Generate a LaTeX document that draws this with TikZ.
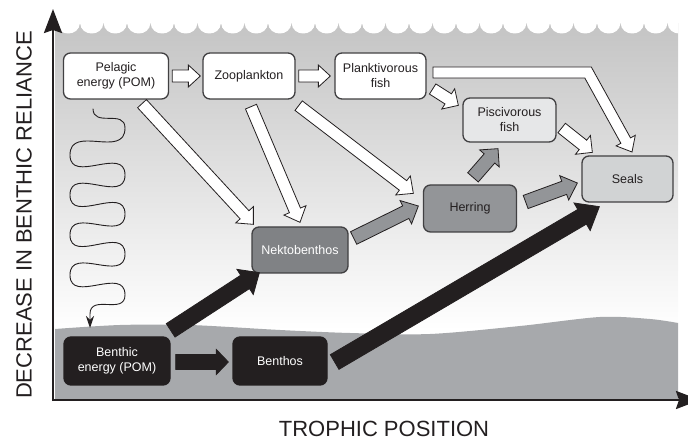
\documentclass[tikz,border=0pt]{standalone}
\usepackage{fontspec}
\setmainfont{Liberation Sans}
\usetikzlibrary{arrows.meta, calc, positioning}

\definecolor{sediment}{HTML}{A7A9AC}
\definecolor{boxline}{HTML}{414042}
\definecolor{ink}{HTML}{231F20}
\definecolor{piscfill}{HTML}{E6E7E8}
\definecolor{sealfill}{HTML}{D1D3D4}
\definecolor{herrfill}{HTML}{939598}
\definecolor{nektfill}{HTML}{808285}

\tikzset{
  foodbox/.style={draw=boxline, line width=1.3pt, rounded corners=7pt, align=center,
    inner sep=0pt, minimum height=46pt, text=ink, font=\fontsize{12.5}{15}\selectfont},
  darkbox/.style={foodbox, draw=ink, fill=ink, text=white, minimum height=48pt},
  meander/.style={out=-90, in=90, looseness=1.3},
  axisline/.style={ink, line width=2.5pt, -{Stealth[length=24pt, width=18pt, inset=3pt]}}
}

% block arrow: [fill] {from}{to}{half shaft}{half head}{head length}
\newcommand{\flowarrow}[6][white]{%
  \coordinate (hb) at ($(#3)!#6!(#2)$);
  \draw[ink, line width=0.8pt, fill=#1]
    ($(#2)!#4!90:(#3)$) -- ($(hb)!#4!-90:(#2)$) -- ($(hb)!#5!-90:(#2)$) -- (#3)
    -- ($(hb)!#5!90:(#2)$) -- ($(hb)!#4!90:(#2)$) -- ($(#2)!#4!-90:(#3)$) -- cycle;}

\begin{document}
\begin{tikzpicture}[x=1pt, y=-1pt]
  \useasboundingbox (0,0) rectangle (688,443);

  % water column and sea floor
  \shade[top color=black!23, bottom color=white] (55,24) rectangle (678,330);
  \begin{scope}
    \clip (55,0) rectangle (678,60);
    \foreach \i in {0,...,27}
      \fill[white] ({33+23.5*\i},23) .. controls ({34+23.5*\i},37) and ({55.5+23.5*\i},37) .. ({56.5+23.5*\i},23) -- cycle;
  \end{scope}
  \fill[sediment] (55,400) -- plot[smooth] coordinates {(55,329) (120,325) (190,325) (280,330) (350,333)
    (430,334) (520,326) (600,317) (650,319) (678,323)} -- (678,400) -- cycle;

  % boxes
  \node[foodbox, fill=white, minimum width=105pt] (pel) at (116,76) {Pelagic\\energy (POM)};
  \node[foodbox, fill=white, minimum width=92pt] (zoo) at (249,76) {Zooplankton};
  \node[foodbox, fill=white, minimum width=91pt] (plank) at (380.5,76) {Planktivorous\\fish};
  \node[foodbox, fill=piscfill, minimum width=93pt, minimum height=44pt] (pisc) at (509.5,120) {Piscivorous\\fish};
  \node[foodbox, fill=sealfill, minimum width=91pt] (seals) at (627.5,179) {Seals};
  \node[foodbox, fill=herrfill, minimum width=93pt, minimum height=47pt] (herring) at (470,208.5) {Herring};
  \node[foodbox, fill=nektfill, text=white, minimum width=96pt] (nekto) at (300,250) {Nektobenthos};
  \node[darkbox, minimum width=106pt] (benthic) at (117,361) {Benthic\\energy (POM)};
  \node[darkbox, minimum width=94pt] (benthos) at (280,361) {Benthos};

  % sinking particles
  \coordinate (sink0) at ($(pel.south)+(-23,9)$);
  \coordinate (sink1) at (90,328);
  \draw[ink, line width=0.9pt, -{Stealth[length=12pt, width=8pt]}] (sink0) to[meander] (125,128)
    to[meander] (70,155) to[meander] (125,175) to[meander] (70,195) to[meander] (125,214)
    to[meander] (70,235) to[meander] (125,254) to[meander] (70,275) to[meander] (125,295)
    to[meander] (90,314) -- (sink1);

  % arrow ends
  \coordinate (p1) at ($(pel.east)+(3,0)$);        \coordinate (z1) at ($(zoo.west)+(-2,0)$);
  \coordinate (z2) at ($(zoo.east)+(3,0)$);        \coordinate (k1) at ($(plank.west)+(-4,0)$);
  \coordinate (p2) at ($(pel.south)+(26,4)$);      \coordinate (n1) at ($(nekto.north west)+(2,-2)$);
  \coordinate (z3) at ($(zoo.south)+(2,7)$);       \coordinate (n2) at ($(nekto.north)+(0,-4)$);
  \coordinate (z4) at ($(zoo.south east)+(3,6)$);  \coordinate (h1) at ($(herring.north west)+(-9.5,9)$);
  \coordinate (k2) at ($(plank.east)+(6,13)$);     \coordinate (f1) at ($(pisc.north west)+(-4,8)$);
  \coordinate (f2) at ($(pisc.east)+(5,8)$);       \coordinate (s1) at ($(seals.north west)+(11,-3)$);
  \coordinate (n3) at ($(nekto.east)+(5,-12)$);    \coordinate (h2) at ($(herring.west)+(-4.5,-2.5)$);
  \coordinate (h3) at ($(herring.north)+(3,-7)$);  \coordinate (f3) at ($(pisc.south)+(-11.5,6)$);
  \coordinate (h4) at ($(herring.east)+(8.5,-6.5)$); \coordinate (s2) at ($(seals.west)+(-4,4)$);
  \coordinate (b1) at ($(benthic.north east)+(0,-6)$); \coordinate (n4) at ($(nekto.south west)+(8,-1)$);
  \coordinate (b2) at ($(benthic.east)+(5,1)$);    \coordinate (t1) at ($(benthos.west)+(-4,1)$);
  \coordinate (t2) at ($(benthos.east)+(7,1)$);    \coordinate (s3) at ($(seals.south west)+(18,4)$);

  % pelagic pathways
  \flowarrow{p1}{z1}{6pt}{11pt}{12pt}
  \flowarrow{z2}{k1}{6pt}{11pt}{12pt}
  \flowarrow{p2}{n1}{6pt}{12pt}{13pt}
  \flowarrow{z3}{n2}{6pt}{12pt}{13pt}
  \flowarrow{z4}{h1}{6pt}{12pt}{13pt}
  \flowarrow{k2}{f1}{6pt}{12pt}{12pt}
  \flowarrow{f2}{s1}{6pt}{12pt}{12pt}
  \draw[ink, line width=0.8pt, fill=white] (433,67) -- (591.3,67) -- (630.5,137.9) -- (635.3,135.3)
    -- (632,152) -- (616.1,145.9) -- (620.9,143.3) -- (584.8,78) -- (433,78) -- cycle;

  % fish pathways
  \flowarrow[herrfill]{n3}{h2}{7pt}{13pt}{14pt}
  \flowarrow[herrfill]{h3}{f3}{7pt}{13pt}{13pt}
  \flowarrow[herrfill]{h4}{s2}{7pt}{13pt}{14pt}

  % benthic pathways
  \flowarrow[ink]{b1}{n4}{8pt}{15pt}{17pt}
  \flowarrow[ink]{b2}{t1}{7.5pt}{12.5pt}{12pt}
  \flowarrow[ink]{t2}{s3}{8.5pt}{16pt}{20pt}

  % axes
  \coordinate (orig) at (53,400);
  \coordinate (ytop) at (53,9);
  \coordinate (xend) at (700,400);
  \draw[axisline] ($(orig)+(0,1.2)$) -- (ytop);
  \draw[axisline] ($(orig)+(-1.2,0)$) -- (xend);
  \node[rotate=90, text=ink, font=\fontsize{22}{26}\selectfont] (ylab) at (24,215) {DECREASE IN BENTHIC RELIANCE};
  \node[text=ink, font=\fontsize{22}{26}\selectfont] (xlab) at (384,429) {TROPHIC POSITION};
\end{tikzpicture}
\end{document}
